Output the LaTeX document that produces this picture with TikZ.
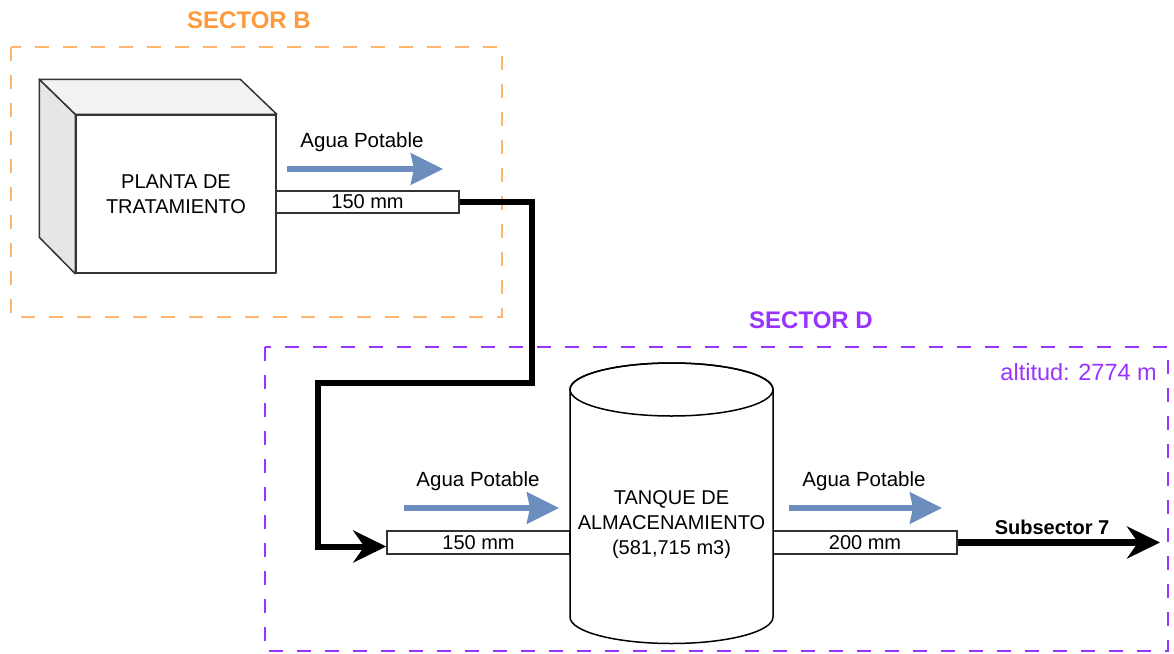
\documentclass[tikz,border=0pt]{standalone}
\usepackage{fontspec}
\setmainfont{Liberation Sans}
\usetikzlibrary{arrows.meta,calc}
\definecolor{orangeline}{HTML}{FFB570}
\definecolor{orangetext}{HTML}{FF9A3C}
\definecolor{purpleline}{HTML}{9933FF}
\definecolor{flowblue}{HTML}{6C8EBF}
\definecolor{edge}{HTML}{333333}
\definecolor{sidegray}{HTML}{E6E6E6}
\definecolor{topgray}{HTML}{F2F2F2}
\begin{document}
\begin{tikzpicture}[x=1pt,y=-1pt,
  txt/.style={font=\fontsize{20}{25}\selectfont, inner sep=0pt, align=center},
  lbl/.style={font=\fontsize{20.5}{24}\selectfont, inner sep=0pt},
  pipe/.style={draw=edge, line width=1.5pt, fill=white, minimum width=184pt,
    minimum height=23pt, inner sep=0pt, font=\fontsize{20}{24}\selectfont},
  sector/.style={line width=2pt, dash pattern=on 14pt off 14pt},
  sectorlabel/.style={font=\bfseries\fontsize{24}{28}\selectfont, inner sep=0pt},
  main/.style={draw=black, line width=6pt, line join=miter,
    -{Stealth[length=33pt,width=32pt,inset=11pt]}},
  flow/.style={draw=flowblue, line width=6pt,
    -{Stealth[length=32pt,width=31pt,inset=3pt]}},
  face/.style={draw=edge, line width=1.5pt, line join=round},
]
\useasboundingbox (0,0) rectangle (1174,653);

% sector frames
\draw[sector, draw=orangeline] (11,47) rectangle (502,317);
\draw[sector, draw=purpleline] (265,347) rectangle (1168,651);
\node[sectorlabel, text=orangetext] (secB) at (249,20) {SECTOR B};
\node[sectorlabel, text=purpleline] (secD) at (811,320) {SECTOR D};
\node[font=\fontsize{23.5}{28}\selectfont, inner sep=0pt, text=purpleline, anchor=east]
  (alt) at (1157,372) {altitud: 2774 m};

% treatment plant (box in perspective)
\node[face, fill=white, minimum width=200pt, minimum height=158pt, txt]
  (planta) at (176,194) {PLANTA DE\\TRATAMIENTO};
\draw[face, fill=sidegray] (planta.north west) -- ++(-36,-35) -- ++(0,158)
  -- (planta.south west) -- cycle;
\draw[face, fill=topgray] (planta.north west) -- ++(-36,-35) -- ++(201,0)
  -- (planta.north east) -- cycle;

% pipes
\node[pipe, minimum width=183pt, minimum height=22pt] (pipeA) at (367.5,202) {150 mm};
\node[pipe, minimum width=183pt] (pipeB) at (478.5,542.5) {150 mm};
\node[pipe] (pipeC) at (865,542.5) {200 mm};

% storage tank
\filldraw[fill=white, draw=black, line width=1.5pt]
  (570,389.5) -- (570,617)
  arc[start angle=180, end angle=360, x radius=101.5pt, y radius=26.5pt]
  -- (773,389.5)
  arc[start angle=0, end angle=180, x radius=101.5pt, y radius=26.5pt] -- cycle;
\draw[line width=1.5pt] (671.5,389.5) ellipse [x radius=101.5pt, y radius=26.5pt];
\node[txt] (tank) at (671.5,525) {TANQUE DE\\ALMACENAMIENTO\\(581,715 m3)};

% main pipeline
\coordinate (bend1) at (532,383);
\coordinate (bend2) at (318,383);
\draw[main] (pipeA.east) -| (bend1) -- (bend2) |- ([yshift=-4pt]pipeB.west);

\coordinate (out) at (1160,542.5);
\draw[main, line width=7pt] (pipeC.east) -- (out);
\node[font=\bfseries\fontsize{20}{24}\selectfont, inner sep=0pt] (sub) at (1052,527) {Subsector 7};

% flow direction arrows
\coordinate (f1s) at (287,169);  \coordinate (f1e) at (443,169);
\coordinate (f2s) at (404,508);  \coordinate (f2e) at (559,508);
\coordinate (f3s) at (789,508);  \coordinate (f3e) at (942,508);
\draw[flow] (f1s) -- (f1e);
\draw[flow] (f2s) -- (f2e);
\draw[flow] (f3s) -- (f3e);
\node[lbl] (ap1) at (362,142) {Agua Potable};
\node[lbl] (ap2) at (478,481) {Agua Potable};
\node[lbl] (ap3) at (864,481) {Agua Potable};
\end{tikzpicture}
\end{document}
